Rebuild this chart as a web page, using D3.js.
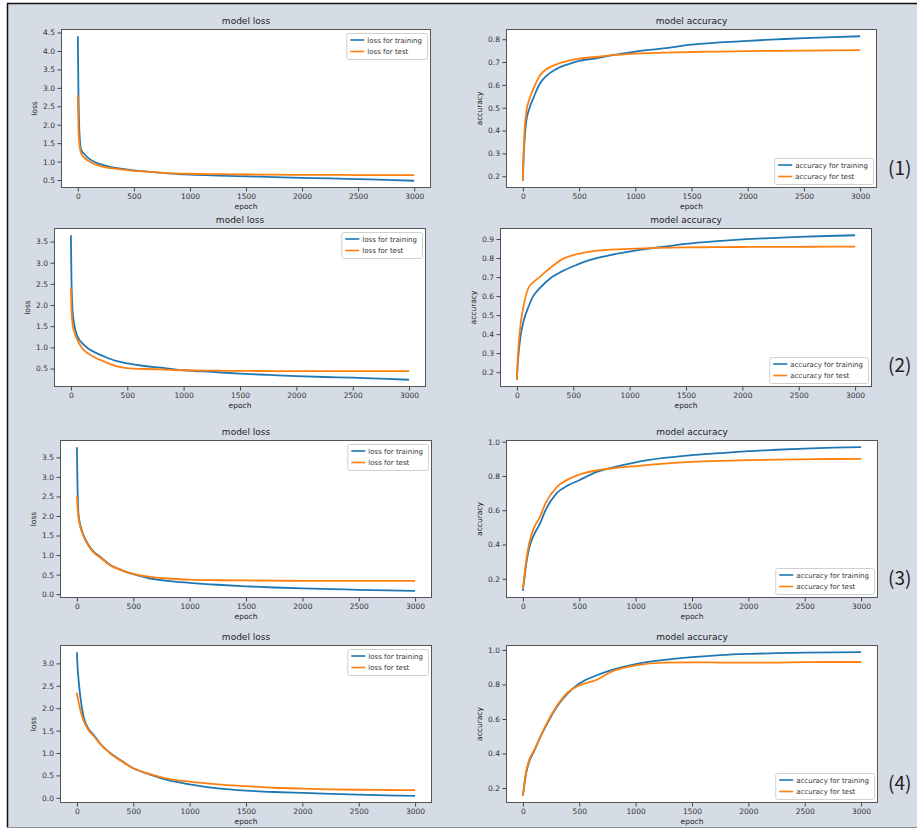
<!DOCTYPE html>
<html>
<head>
<meta charset="utf-8">
<script src="https://cdn.jsdelivr.net/npm/d3@7"></script>
<style>
    body { margin: 0; background: #fff; }
    svg { display: block; font-family: "DejaVu Sans", sans-serif; }
</style>
</head>
<body>
<svg id="chart" width="917" height="829"></svg>
<script>
let epochs = [0, 5, 15, 30, 60, 100, 150, 200, 300, 400, 500, 650, 800, 1000, 1250, 1500, 1750, 2000, 2250, 2500, 2750, 3000];

// (1)
let lossTrain1 = [4.40, 3.00, 1.75, 1.32, 1.20, 1.08, 0.99, 0.93, 0.85, 0.80, 0.76, 0.72, 0.68, 0.645, 0.62, 0.60, 0.58, 0.56, 0.545, 0.525, 0.505, 0.48];
let lossTest1 = [2.80, 2.00, 1.45, 1.22, 1.10, 1.01, 0.93, 0.88, 0.82, 0.78, 0.75, 0.72, 0.69, 0.67, 0.66, 0.65, 0.645, 0.64, 0.64, 0.635, 0.635, 0.635];
let accTrain1 = [0.18, 0.26, 0.36, 0.44, 0.50, 0.55, 0.605, 0.635, 0.67, 0.69, 0.705, 0.716, 0.73, 0.746, 0.76, 0.776, 0.786, 0.793, 0.799, 0.805, 0.809, 0.813];
let accTest1 = [0.18, 0.28, 0.40, 0.48, 0.54, 0.59, 0.64, 0.665, 0.69, 0.705, 0.715, 0.722, 0.73, 0.737, 0.741, 0.744, 0.746, 0.748, 0.749, 0.75, 0.751, 0.752];

// (2)
let lossTrain2 = [3.65, 2.60, 1.85, 1.53, 1.25, 1.10, 0.98, 0.90, 0.78, 0.68, 0.62, 0.56, 0.52, 0.46, 0.42, 0.38, 0.35, 0.32, 0.30, 0.285, 0.26, 0.235];
let lossTest2 = [2.40, 1.90, 1.55, 1.37, 1.16, 0.98, 0.86, 0.78, 0.66, 0.56, 0.51, 0.49, 0.48, 0.46, 0.45, 0.445, 0.44, 0.44, 0.44, 0.44, 0.44, 0.44];
let accTrain2 = [0.16, 0.22, 0.30, 0.38, 0.47, 0.54, 0.605, 0.64, 0.695, 0.73, 0.757, 0.79, 0.812, 0.834, 0.856, 0.875, 0.888, 0.898, 0.905, 0.911, 0.916, 0.92];
let accTest2 = [0.16, 0.24, 0.34, 0.44, 0.55, 0.64, 0.675, 0.70, 0.75, 0.793, 0.815, 0.834, 0.843, 0.848, 0.853, 0.856, 0.857, 0.858, 0.859, 0.859, 0.86, 0.86];

// (3)
let lossTrain3 = [3.76, 2.80, 2.02, 1.77, 1.50, 1.27, 1.08, 0.97, 0.74, 0.61, 0.51, 0.40, 0.34, 0.29, 0.24, 0.20, 0.17, 0.145, 0.13, 0.11, 0.095, 0.085];
let lossTest3 = [2.50, 2.25, 1.94, 1.72, 1.48, 1.25, 1.06, 0.95, 0.73, 0.61, 0.52, 0.44, 0.40, 0.37, 0.355, 0.35, 0.345, 0.34, 0.34, 0.34, 0.34, 0.34];
let accTrain3 = [0.13, 0.16, 0.21, 0.29, 0.39, 0.46, 0.52, 0.60, 0.70, 0.745, 0.775, 0.822, 0.85, 0.88, 0.905, 0.922, 0.933, 0.945, 0.953, 0.96, 0.965, 0.968];
let accTest3 = [0.14, 0.17, 0.23, 0.31, 0.42, 0.50, 0.56, 0.64, 0.735, 0.78, 0.808, 0.832, 0.845, 0.858, 0.872, 0.882, 0.888, 0.892, 0.895, 0.897, 0.899, 0.90];

// (4)
let lossTrain4 = [3.25, 2.95, 2.63, 2.26, 1.80, 1.55, 1.40, 1.23, 0.99, 0.82, 0.66, 0.52, 0.40, 0.30, 0.21, 0.16, 0.13, 0.11, 0.09, 0.07, 0.055, 0.045];
let lossTest4 = [2.35, 2.25, 2.14, 1.96, 1.72, 1.52, 1.38, 1.22, 0.98, 0.81, 0.66, 0.53, 0.43, 0.36, 0.30, 0.26, 0.225, 0.205, 0.19, 0.18, 0.175, 0.17];
let accTrain4 = [0.155, 0.18, 0.23, 0.29, 0.36, 0.415, 0.49, 0.555, 0.67, 0.75, 0.805, 0.852, 0.886, 0.918, 0.942, 0.958, 0.97, 0.977, 0.981, 0.984, 0.986, 0.987];
let accTest4 = [0.155, 0.18, 0.24, 0.30, 0.37, 0.42, 0.49, 0.56, 0.675, 0.755, 0.795, 0.826, 0.878, 0.91, 0.926, 0.928, 0.927, 0.926, 0.927, 0.929, 0.93, 0.93];

// tick values
let xTicks = [0, 500, 1000, 1500, 2000, 2500, 3000];
let lossTicks1 = [0.5, 1.0, 1.5, 2.0, 2.5, 3.0, 3.5, 4.0, 4.5];
let lossTicks2 = [0.5, 1.0, 1.5, 2.0, 2.5, 3.0, 3.5];
let lossTicks3 = [0.0, 0.5, 1.0, 1.5, 2.0, 2.5, 3.0, 3.5];
let lossTicks4 = [0.0, 0.5, 1.0, 1.5, 2.0, 2.5, 3.0];
let accTicks1 = [0.2, 0.3, 0.4, 0.5, 0.6, 0.7, 0.8];
let accTicks2 = [0.2, 0.3, 0.4, 0.5, 0.6, 0.7, 0.8, 0.9];
let accTicks3 = [0.2, 0.4, 0.6, 0.8, 1.0];
let accTicks4 = [0.2, 0.4, 0.6, 0.8, 1.0];

let rowLabels = ["(1)", "(2)", "(3)", "(4)"];

let colors = { train: "#1f77b4", test: "#ff7f0e" };

// plot-area boxes, one per panel
let panels = [
    { kind: "loss", box: [61, 29, 431, 188], train: lossTrain1, test: lossTest1, ticks: lossTicks1 },
    { kind: "accuracy", box: [506, 29, 877, 188], train: accTrain1, test: accTest1, ticks: accTicks1 },
    { kind: "loss", box: [54, 228, 426, 387], train: lossTrain2, test: lossTest2, ticks: lossTicks2 },
    { kind: "accuracy", box: [500, 228, 872, 387], train: accTrain2, test: accTest2, ticks: accTicks2 },
    { kind: "loss", box: [60, 440, 432, 598], train: lossTrain3, test: lossTest3, ticks: lossTicks3 },
    { kind: "accuracy", box: [506, 440, 878, 598], train: accTrain3, test: accTest3, ticks: accTicks3 },
    { kind: "loss", box: [60, 645, 432, 803], train: lossTrain4, test: lossTest4, ticks: lossTicks4 },
    { kind: "accuracy", box: [506, 645, 878, 803], train: accTrain4, test: accTest4, ticks: accTicks4 },
];
let labelBaselines = [175, 372, 585, 790];

let svg = d3.select("#chart");

// figure background and frame
svg.append("rect").attr("x", 7).attr("y", 3).attr("width", 910).attr("height", 825).attr("fill", "#d6dce6");
svg.append("line").attr("x1", 7).attr("x2", 917).attr("y1", 3.5).attr("y2", 3.5).attr("stroke", "#111").attr("stroke-width", 1.5);
svg.append("line").attr("x1", 7.5).attr("x2", 7.5).attr("y1", 3).attr("y2", 828).attr("stroke", "#111").attr("stroke-width", 1.5);
svg.append("line").attr("x1", 7).attr("x2", 917).attr("y1", 827.5).attr("y2", 827.5).attr("stroke", "#8a8f96");

panels.forEach(draw);

rowLabels.forEach((t, i) => {
    svg.append("text")
        .attr("x", 888)
        .attr("y", labelBaselines[i])
        .attr("font-family", "'Noto Sans CJK JP', sans-serif")
        .attr("font-size", 19)
        .attr("fill", "#222")
        .text(t);
});

function draw(p) {
    let [x0, y0, x1, y1] = p.box;
    let all = p.train.concat(p.test);
    let lo = d3.min(all), hi = d3.max(all);
    let pad = (hi - lo) * 0.05;

    let x = d3.scaleLinear().domain([-150, 3150]).range([x0, x1]);
    let y = d3.scaleLinear().domain([lo - pad, hi + pad]).range([y1, y0]);

    let g = svg.append("g");

    g.append("rect")
        .attr("x", x0).attr("y", y0)
        .attr("width", x1 - x0).attr("height", y1 - y0)
        .attr("fill", "#fff");

    let line = d3.line()
        .x((d, i) => x(epochs[i]))
        .y((d) => y(d))
        .curve(d3.curveMonotoneX);

    g.append("path").datum(p.train)
        .attr("d", line).attr("fill", "none")
        .attr("stroke", colors.train).attr("stroke-width", 1.8);
    g.append("path").datum(p.test)
        .attr("d", line).attr("fill", "none")
        .attr("stroke", colors.test).attr("stroke-width", 1.8);

    // axes
    let xa = g.append("g")
        .attr("transform", `translate(0,${y1})`)
        .call(d3.axisBottom(x).tickValues(xTicks).tickFormat(d3.format("d")).tickSize(3.5).tickPadding(2.5));
    let ya = g.append("g")
        .attr("transform", `translate(${x0},0)`)
        .call(d3.axisLeft(y).tickValues(p.ticks).tickFormat(d3.format(".1f")).tickSize(3.5).tickPadding(2.5));
    [xa, ya].forEach((a) => {
        a.select(".domain").remove();
        a.selectAll("line").attr("stroke", "#444");
        a.selectAll("text").attr("font-size", 7.5).attr("fill", "#333").attr("font-family", "'DejaVu Sans', sans-serif");
    });

    g.append("rect")
        .attr("x", x0 + 0.5).attr("y", y0 + 0.5)
        .attr("width", x1 - x0 - 1).attr("height", y1 - y0 - 1)
        .attr("fill", "none").attr("stroke", "#555");

    // title and axis labels
    g.append("text")
        .attr("x", (x0 + x1) / 2).attr("y", y0 - 5)
        .attr("text-anchor", "middle").attr("font-size", 9).attr("fill", "#222")
        .text("model " + p.kind);
    g.append("text")
        .attr("x", (x0 + x1) / 2).attr("y", y1 + 21)
        .attr("text-anchor", "middle").attr("font-size", 7.5).attr("fill", "#222")
        .text("epoch");
    g.append("text")
        .attr("transform", `translate(${x0 - 24},${(y0 + y1) / 2}) rotate(-90)`)
        .attr("text-anchor", "middle").attr("font-size", 7.5).attr("fill", "#222")
        .text(p.kind);

    // legend
    let names = [p.kind + " for training", p.kind + " for test"];
    let leg = g.append("g");
    let texts = names.map((n, i) =>
        leg.append("text")
            .attr("x", 21).attr("y", 9.5 + i * 11.5)
            .attr("font-size", 7).attr("fill", "#333")
            .text(n)
    );
    let tw = d3.max(texts, (t) => t.node().getComputedTextLength());
    let lw = tw + 26, lh = 26;
    leg.insert("rect", "text")
        .attr("x", 0.5).attr("y", 0.5).attr("width", lw).attr("height", lh)
        .attr("rx", 2).attr("fill", "#fff").attr("fill-opacity", 0.85)
        .attr("stroke", "#d0d0d0");
    [colors.train, colors.test].forEach((c, i) => {
        leg.append("line")
            .attr("x1", 4).attr("x2", 18)
            .attr("y1", 7 + i * 11.5).attr("y2", 7 + i * 11.5)
            .attr("stroke", c).attr("stroke-width", 1.6);
    });
    let lx = x1 - 4 - lw;
    let ly = p.kind === "loss" ? y0 + 4 : y1 - 4 - lh;
    leg.attr("transform", `translate(${lx},${ly})`);
}
</script>
</body>
</html>
